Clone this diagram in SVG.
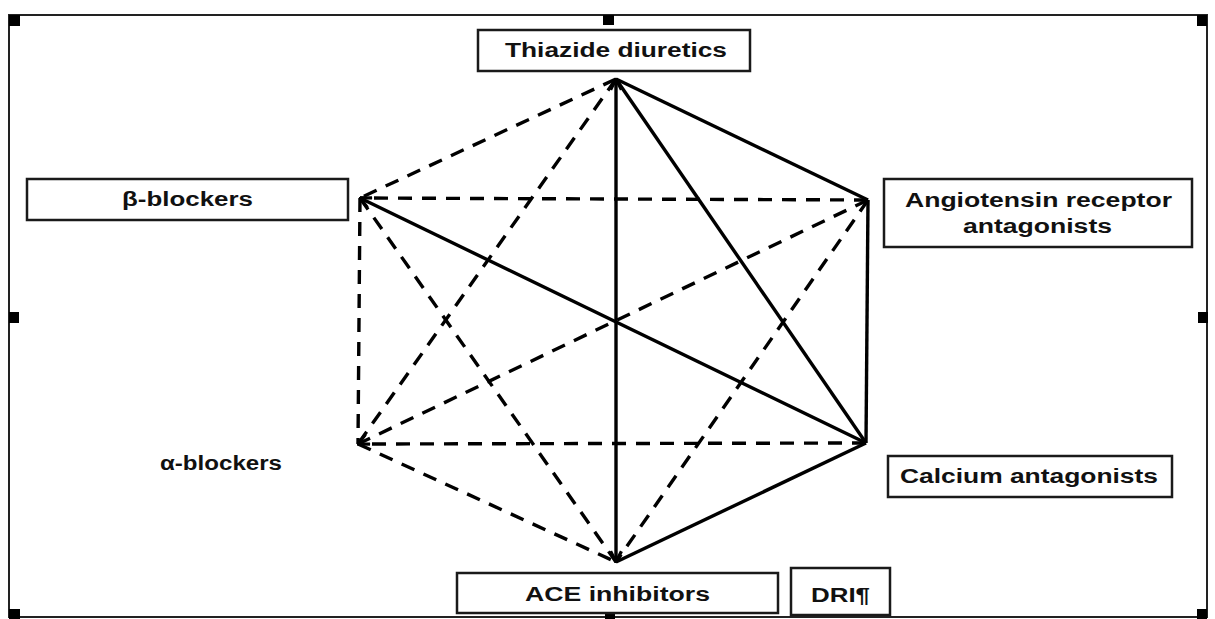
<svg xmlns="http://www.w3.org/2000/svg" width="1215" height="619" viewBox="0 0 1215 619">
<style>
.box{fill:#fff;stroke:#1a1a1a;stroke-width:2.5}
.lbl{font-family:"Liberation Sans",Arial,sans-serif;font-weight:bold;font-size:20px;fill:#111}
.solid{stroke:#000;stroke-width:3.4;fill:none}
.dash{stroke:#000;stroke-width:3.4;fill:none;stroke-dasharray:14 10}
.hd{fill:#000}
</style>
<defs>
<marker id="arr" viewBox="0 0 12 12" refX="11" refY="6" markerWidth="13" markerHeight="13" markerUnits="userSpaceOnUse" orient="auto-start-reverse">
<path d="M1,1 L11,6 L1,11" fill="none" stroke="#000" stroke-width="3"/>
</marker>
</defs>
<rect x="0" y="0" width="1215" height="619" fill="#fff"/>
<g id="frame">
<rect x="9" y="15" width="1198" height="602" fill="none" stroke="#222" stroke-width="2"/>
<rect class="hd" x="9" y="15" width="11" height="11"/>
<rect class="hd" x="603" y="15" width="11" height="10"/>
<rect class="hd" x="1197" y="15" width="10" height="11"/>
<rect class="hd" x="9" y="312" width="10" height="11"/>
<rect class="hd" x="1198" y="312" width="10" height="11"/>
<rect class="hd" x="9" y="609" width="11" height="10"/>
<rect class="hd" x="605" y="612" width="10" height="7"/>
<rect class="hd" x="1197" y="609" width="10" height="10"/>
</g>
<g id="connectors">
<line class="solid" x1="616" y1="79" x2="868" y2="200"/>
<line class="solid" x1="616" y1="79" x2="866" y2="443"/>
<line class="solid" x1="616" y1="320" x2="616" y2="79" marker-end="url(#arr)"/>
<line class="solid" x1="616" y1="320" x2="616" y2="562" marker-end="url(#arr)"/>
<line class="solid" x1="868" y1="200" x2="866" y2="443"/>
<line class="solid" x1="866" y1="443" x2="360" y2="198" marker-end="url(#arr)"/>
<line class="solid" x1="866" y1="443" x2="616" y2="562"/>
<line class="dash" x1="616" y1="79" x2="360" y2="198"/>
<line class="dash" x1="616" y1="79" x2="358" y2="444"/>
<line class="dash" x1="868" y1="200" x2="360" y2="198"/>
<line class="dash" x1="360" y1="198" x2="358" y2="444"/>
<line class="dash" x1="360" y1="198" x2="616" y2="562"/>
<line class="dash" x1="868" y1="200" x2="358" y2="444" marker-end="url(#arr)"/>
<line class="dash" x1="866" y1="443" x2="358" y2="444"/>
<line class="dash" x1="358" y1="444" x2="616" y2="562"/>
<line class="dash" x1="868" y1="200" x2="616" y2="562"/>
</g>
<g id="thiazide">
<rect class="box" x="478" y="30" width="272" height="41"/>
<text class="lbl" x="505" y="57" textLength="222" lengthAdjust="spacingAndGlyphs">Thiazide diuretics</text>
</g>
<g id="beta">
<rect class="box" x="27" y="179" width="321" height="41"/>
<text class="lbl" x="122" y="206" textLength="131" lengthAdjust="spacingAndGlyphs">β-blockers</text>
</g>
<g id="angiotensin">
<rect class="box" x="884" y="179" width="308" height="68"/>
<text class="lbl" x="905" y="207" textLength="267" lengthAdjust="spacingAndGlyphs">Angiotensin receptor</text>
<text class="lbl" x="963" y="233" textLength="149" lengthAdjust="spacingAndGlyphs">antagonists</text>
</g>
<g id="calcium">
<rect class="box" x="888" y="456" width="284" height="41"/>
<text class="lbl" x="900" y="483" textLength="258" lengthAdjust="spacingAndGlyphs">Calcium antagonists</text>
</g>
<g id="alpha">
<text class="lbl" x="160" y="470" textLength="122" lengthAdjust="spacingAndGlyphs">α-blockers</text>
</g>
<g id="ace">
<rect class="box" x="457" y="573" width="321" height="40"/>
<text class="lbl" x="525" y="601" textLength="185" lengthAdjust="spacingAndGlyphs">ACE inhibitors</text>
</g>
<g id="dri">
<rect class="box" x="791" y="568" width="99" height="47"/>
<text class="lbl" x="811" y="602" font-size="21" textLength="59" lengthAdjust="spacingAndGlyphs">DRI¶</text>
</g>
</svg>
